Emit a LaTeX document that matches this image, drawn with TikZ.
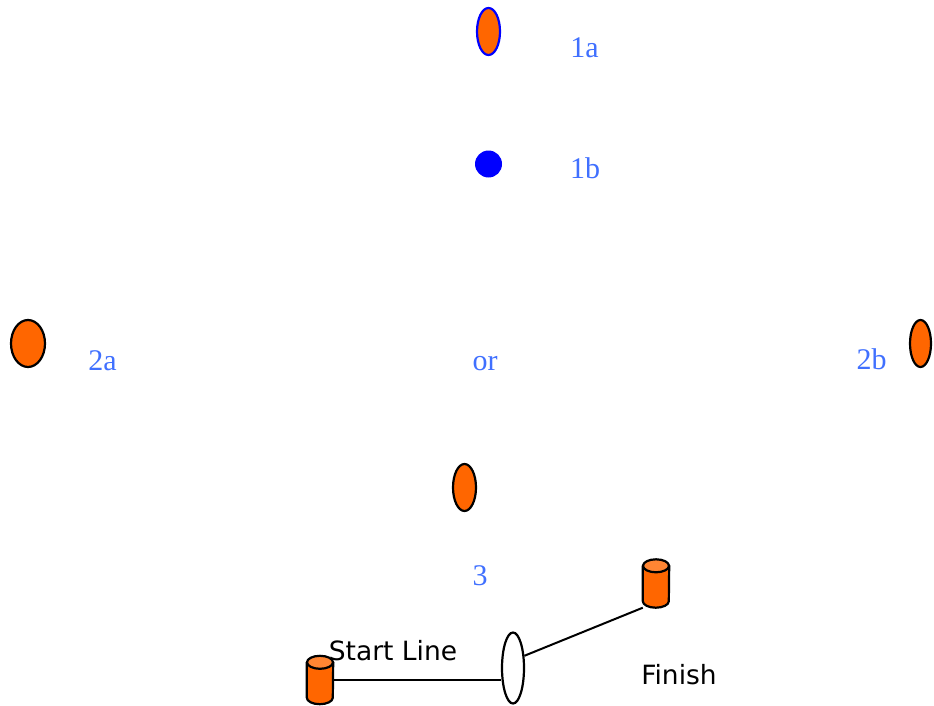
\documentclass[tikz,border=0pt]{standalone}
\usepackage{fontspec}
\setmainfont{Liberation Serif}
\newfontfamily\signfont{DejaVu Sans}
\usetikzlibrary{shapes.geometric,calc}
\definecolor{markorange}{RGB}{255,102,0}
\definecolor{marktop}{RGB}{255,133,51}
\definecolor{labelblue}{RGB}{64,112,255}
\definecolor{dotblue}{RGB}{0,0,255}
\begin{document}
\begin{tikzpicture}
[x=1pt,y=-1pt,
  markdecorate/.style={shape=ellipse,inner sep=0pt,draw,line width=2.2pt,fill=markorange},%
  labeldecorate/.style={text=labelblue,font=\fontsize{30}{36}\selectfont,inner sep=0pt,anchor=base},%
  signdecorate/.style={font=\signfont\fontsize{26.5}{32}\selectfont,inner sep=0pt,anchor=base},%
  buoydecorate/.style={shape=rectangle,inner sep=0pt,minimum width=26pt,minimum height=48pt},%
  buoyline/.style={draw,line width=2.2pt,line join=round},%
  linedecorate/.style={-,line width=2pt}]
\useasboundingbox (0,0) rectangle (934,706);
%% marks
\foreach \markname/\x/\y/\w in {twoa/28/343.5/34, twob/920.5/343.5/21, three/464.5/487.5/23} {
  \node (\markname) at (\x,\y) [markdecorate,minimum width=\w pt,minimum height=47pt] {};
}
\node (onea) at (488.5,31.5) [markdecorate,draw=dotblue,minimum width=23pt,minimum height=47pt] {};
\node (oneb) at (488.5,164) [shape=circle,inner sep=0pt,fill=dotblue,minimum size=27pt] {};
%% labels
\foreach \labelname/\x/\y in {1a/584.5/58, 1b/585/178, 2a/102.5/370,
  2b/871.5/369, or/485/370, 3/480/585} {
  \node (lbl\labelname) at (\x,\y) [labeldecorate] {\labelname};
}
%% start and finish
\node (startbuoy) at (320,680) [buoydecorate] {};
\node (finishbuoy) at (656,583.5) [buoydecorate] {};
\node (gate) at (513,668) [shape=ellipse,inner sep=0pt,draw,line width=2.2pt,fill=white,
  minimum width=22pt,minimum height=71pt] {};
\node (startlbl) at (393,660) [signdecorate] {Start Line};
\node (finishlbl) at (679,684) [signdecorate] {Finish};
\draw[linedecorate,line width=1.6pt] (startbuoy.east) -- (startbuoy.east -| gate.west);
\draw[linedecorate] (gate.47) -- (finishbuoy.south west);
%% buoys
\foreach \buoy in {startbuoy,finishbuoy} {
  \path[buoyline,fill=markorange] ($(\buoy.north west)+(0,6.5)$) -- ($(\buoy.south west)+(0,-6.5)$)
    arc[start angle=180,end angle=0,x radius=13,y radius=6.5]
    -- ($(\buoy.north east)+(0,6.5)$) -- cycle;
  \path[buoyline,fill=marktop] ($(\buoy.north)+(0,6.5)$) ellipse[x radius=13,y radius=6.5];
}
\end{tikzpicture}
\end{document}
